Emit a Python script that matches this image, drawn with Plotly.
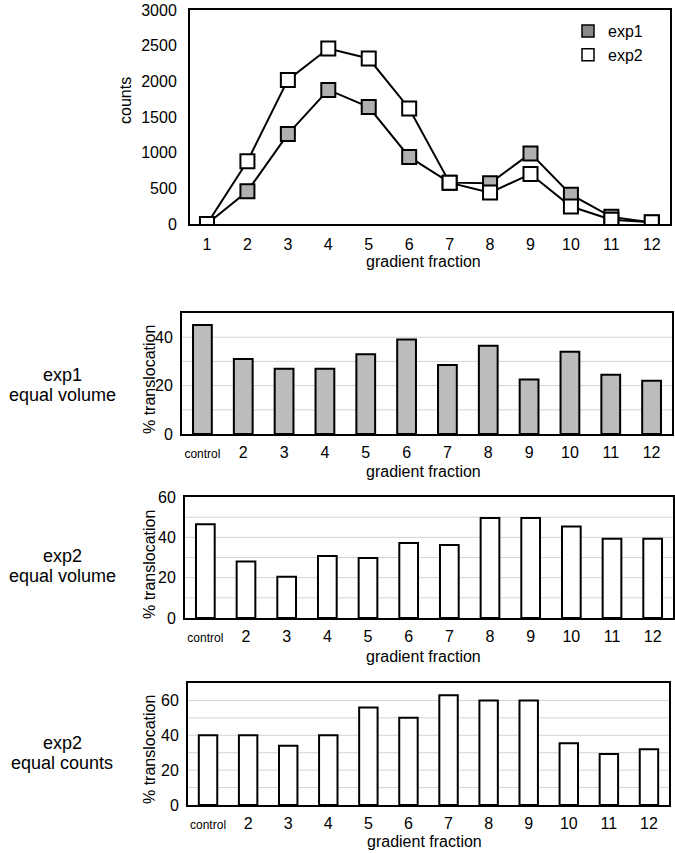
import plotly.graph_objects as go

# top panel: counts per gradient fraction
fractions = [1, 2, 3, 4, 5, 6, 7, 8, 9, 10, 11, 12]
exp1_counts = [0, 460, 1260, 1880, 1640, 940, 580, 570, 990, 410, 100, 20]
exp2_counts = [0, 880, 2020, 2460, 2320, 1620, 580, 440, 700, 245, 60, 25]

# bar panels: % translocation
bar_cats = ['control', '2', '3', '4', '5', '6', '7', '8', '9', '10', '11', '12']
exp1_vol = [45, 31, 27, 27, 33, 39, 28.5, 36.5, 22.5, 34, 24.5, 22]
exp2_vol = [46.5, 28, 20.5, 30.8, 29.7, 37.2, 36.2, 49.6, 49.6, 45.4, 39.3, 39.3]
exp2_counts_bar = [40, 40, 34, 40, 56, 50, 63, 60, 60, 35.5, 29.3, 32]

W, H = 675, 853
FONT = 'Liberation Sans, Arial, Helvetica, sans-serif'

def xd(a, b):
    return [a / W, b / W]

def yd(top, bottom):
    return [1 - bottom / H, 1 - top / H]

def px(x, y):
    return x / W, 1 - y / H

fig = go.Figure()

# lines
fig.add_trace(go.Scatter(x=fractions, y=exp1_counts, mode='lines+markers',
                         line=dict(color='black', width=2),
                         marker=dict(symbol='square', size=14, color='#b0b0b0',
                                     line=dict(color='black', width=2)),
                         showlegend=False, xaxis='x', yaxis='y'))
fig.add_trace(go.Scatter(x=fractions, y=exp2_counts, mode='lines+markers',
                         line=dict(color='black', width=2),
                         marker=dict(symbol='square', size=14, color='white',
                                     line=dict(color='black', width=2)),
                         showlegend=False, xaxis='x', yaxis='y'))
# legend entries (squares only)
fig.add_trace(go.Scatter(x=[None], y=[None], mode='markers', name='exp1',
                         marker=dict(symbol='square', size=12, color='#8a8a8a',
                                     line=dict(color='black', width=1.5)),
                         xaxis='x', yaxis='y'))
fig.add_trace(go.Scatter(x=[None], y=[None], mode='markers', name='exp2',
                         marker=dict(symbol='square', size=12, color='white',
                                     line=dict(color='black', width=1.5)),
                         xaxis='x', yaxis='y'))

bar_sets = [(exp1_vol, '#bcbcbc', 'x2', 'y2'),
            (exp2_vol, 'white', 'x3', 'y3'),
            (exp2_counts_bar, 'white', 'x4', 'y4')]
for vals, col, xa, ya in bar_sets:
    fig.add_trace(go.Bar(x=bar_cats, y=vals, marker=dict(color=col, line=dict(color='black', width=2)),
                         width=0.46, showlegend=False, xaxis=xa, yaxis=ya))

frame = dict(showline=True, linecolor='black', linewidth=2, mirror=True,
             zeroline=False, ticks='', automargin=False, showgrid=False,
             tickfont=dict(size=16, color='black'))

ticktext = ['<span style="font-size:12px">control</span>'] + bar_cats[1:]

fig.update_layout(
    width=W, height=H,
    margin=dict(l=0, r=0, t=0, b=0),
    paper_bgcolor='white', plot_bgcolor='white',
    font=dict(family=FONT, size=16, color='black'),
    legend=dict(x=568 / W, y=1 - 14 / H, xanchor='left', yanchor='top',
                bgcolor='rgba(0,0,0,0)', font=dict(size=16),
                itemwidth=30, tracegroupgap=0),
    xaxis=dict(frame, domain=xd(190, 670), range=[0.58, 12.45],
               tickvals=fractions, ticklabelstandoff=5, anchor='y'),
    yaxis=dict(frame, domain=yd(10, 224), range=[0, 3000], dtick=500,
               ticklabelstandoff=8, anchor='x'),
    xaxis2=dict(frame, domain=xd(182, 672), tickvals=bar_cats, ticktext=ticktext,
                ticklabelstandoff=3, anchor='y2'),
    yaxis2=dict(frame, domain=yd(313, 434), range=[0, 50], tickvals=[0, 20, 40],
                ticklabelstandoff=4, anchor='x2'),
    xaxis3=dict(frame, domain=xd(185, 673), tickvals=bar_cats, ticktext=ticktext,
                ticklabelstandoff=3, anchor='y3'),
    yaxis3=dict(frame, domain=yd(497, 618), range=[0, 60], tickvals=[0, 20, 40, 60],
                ticklabelstandoff=4, anchor='x3'),
    xaxis4=dict(frame, domain=xd(188, 669), tickvals=bar_cats, ticktext=ticktext,
                ticklabelstandoff=3, anchor='y4'),
    yaxis4=dict(frame, domain=yd(683, 805), range=[0, 70], tickvals=[0, 20, 40, 60],
                ticklabelstandoff=4, anchor='x4'),
)

# light gridlines every 10 %
grid_specs = [('x2', 'y2', 50), ('x3', 'y3', 60), ('x4', 'y4', 70)]
for xa, ya, top in grid_specs:
    for g in range(10, top, 10):
        fig.add_shape(type='line', xref=xa + ' domain', yref=ya, x0=0, x1=1, y0=g, y1=g,
                      line=dict(color='#d4d4d4', width=1), layer='below')

# axis titles placed as in the original figure (tight to the tick labels)
for xc, yc in [(423, 262), (423, 471), (423, 656), (424, 841)]:
    ax, ay = px(xc, yc)
    fig.add_annotation(x=ax, y=ay, xref='paper', yref='paper', text='gradient fraction',
                       showarrow=False, font=dict(size=16), xanchor='center', yanchor='middle')
ax, ay = px(125, 101)
fig.add_annotation(x=ax, y=ay, xref='paper', yref='paper', text='counts', textangle=-90,
                   showarrow=False, font=dict(size=16), xanchor='center', yanchor='middle')
for yc in [380, 565, 750]:
    ax, ay = px(149, yc)
    fig.add_annotation(x=ax, y=ay, xref='paper', yref='paper', text='% translocation',
                       textangle=-90, showarrow=False, font=dict(size=16),
                       xanchor='center', yanchor='middle')

# row labels on the left
row_labels = [('exp1', 'equal volume', 385), ('exp2', 'equal volume', 566),
              ('exp2', 'equal counts', 753)]
for l1, l2, yc in row_labels:
    fig.add_annotation(x=62 / W, y=1 - (yc - 10) / H, xref='paper', yref='paper',
                       text=l1, showarrow=False, font=dict(size=18),
                       xanchor='center', yanchor='middle')
    fig.add_annotation(x=62 / W, y=1 - (yc + 10) / H, xref='paper', yref='paper',
                       text=l2, showarrow=False, font=dict(size=18),
                       xanchor='center', yanchor='middle')

fig.write_html("out.html", config={'displayModeBar': False},
               post_script="document.body.style.margin='0';")
